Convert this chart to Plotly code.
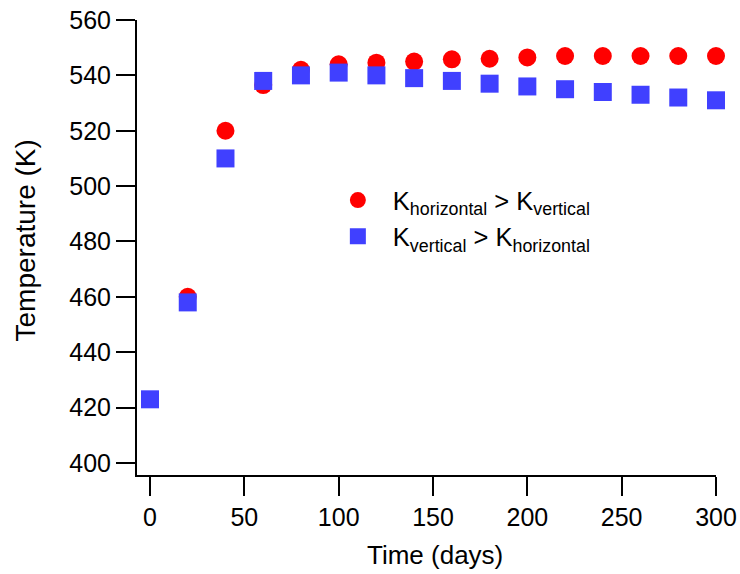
import plotly.graph_objects as go

# Time points (days)
time_days = [0, 20, 40, 60, 80, 100, 120, 140, 160, 180, 200, 220, 240, 260, 280, 300]
time_days_h = [20, 40, 60, 80, 100, 120, 140, 160, 180, 200, 220, 240, 260, 280, 300]

# Temperature (K) for the two anisotropy cases
temp_h_gt_v = [460, 520, 536.5, 542, 544, 544.6, 545, 545.8, 546, 546.5, 547, 547, 547, 547, 547]
temp_v_gt_h = [423, 458, 510, 538, 540, 541, 540, 539, 538, 537, 536, 535, 534, 533, 532, 531]

x_ticks = [0, 50, 100, 150, 200, 250, 300]
y_ticks = [400, 420, 440, 460, 480, 500, 520, 540, 560]

FONT = "Liberation Sans, Arial, sans-serif"

fig = go.Figure()
fig.add_trace(go.Scatter(
    x=time_days_h, y=temp_h_gt_v, mode="markers",
    name="K<sub>horizontal</sub> > K<sub>vertical</sub>",
    marker=dict(symbol="circle", size=18, color="#FF0000"),
    cliponaxis=False,
))
fig.add_trace(go.Scatter(
    x=time_days, y=temp_v_gt_h, mode="markers",
    name="K<sub>vertical</sub> > K<sub>horizontal</sub>",
    marker=dict(symbol="square", size=18, color="#4040FF"),
    cliponaxis=False,
))

axis_common = dict(
    showline=True, linecolor="black", linewidth=2,
    ticks="outside", ticklen=19, tickwidth=2, tickcolor="black",
    showgrid=False, zeroline=False, automargin=False,
    tickfont=dict(family=FONT, size=25, color="black"),
)

fig.update_xaxes(range=[-6.9, 300], tickvals=x_ticks, **axis_common)
fig.update_yaxes(range=[395.66, 560], tickvals=y_ticks, **axis_common)

# Axis titles placed as paper-anchored annotations
fig.add_annotation(
    text="Time (days)", xref="paper", yref="paper", x=0.514, y=-0.176,
    xanchor="center", yanchor="middle", showarrow=False,
    font=dict(family=FONT, size=26, color="black"),
)
fig.add_annotation(
    text="Temperature (K)", xref="paper", yref="paper", x=-0.193, y=0.516,
    xanchor="center", yanchor="middle", showarrow=False, textangle=-90,
    font=dict(family=FONT, size=28, color="black"),
)

fig.update_layout(
    width=740, height=574,
    margin=dict(l=137, r=24, t=20, b=99),
    plot_bgcolor="white", paper_bgcolor="white",
    font=dict(family=FONT, color="black"),
    legend=dict(
        x=0.321, y=0.655, xanchor="left", yanchor="top",
        font=dict(family=FONT, size=25.5, color="black"),
        bgcolor="rgba(0,0,0,0)", tracegroupgap=0, itemwidth=60,
    ),
)

fig.write_html("out.html")
